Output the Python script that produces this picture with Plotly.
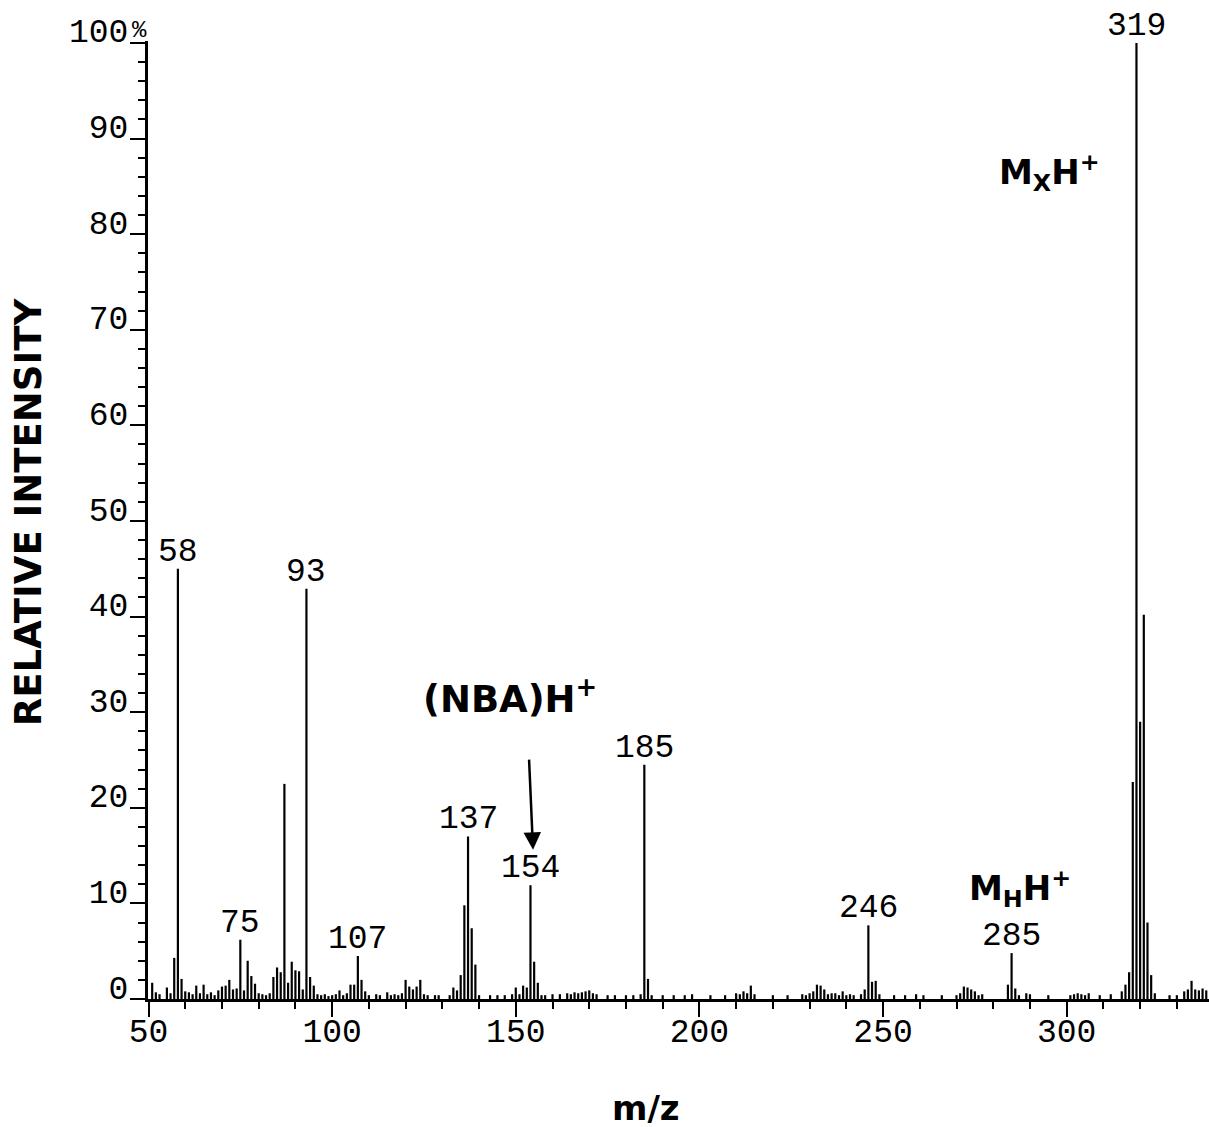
import plotly.graph_objects as go

# ---- spectrum data: m/z and relative intensity (%) ----
# labelled ions
label_mz = [58, 75, 93, 107, 137, 154, 185, 246, 285, 319]
label_int = [45.0, 6.2, 42.9, 4.5, 17.0, 11.9, 24.5, 7.7, 4.8, 100.0]

# other ions, m/z 50-100
low_mz = [51, 52, 53, 55, 56, 57, 59, 60, 61, 62, 63, 64, 65, 66, 67, 68, 69, 70,
          71, 72, 73, 74, 76, 77, 78, 79, 80, 81, 82, 83, 84, 85, 86, 87, 88, 89,
          90, 91, 92, 94, 95, 96, 97, 98, 99]
low_int = [1.7, 0.7, 0.5, 1.2, 0.6, 4.3, 2.1, 0.8, 0.7, 0.5, 1.4, 0.6, 1.5, 0.5, 0.7,
           0.4, 0.9, 1.3, 1.4, 2.0, 1.0, 1.1, 0.9, 4.0, 2.4, 1.6, 0.6, 0.5, 0.4, 0.6,
           2.3, 3.3, 2.8, 22.5, 1.7, 3.9, 3.0, 2.9, 1.0, 2.3, 1.4, 0.5, 0.4, 0.5, 0.3]

# other ions, m/z 100-190
mid_mz = [100, 101, 102, 103, 104, 105, 106, 108, 109, 110, 112, 113, 115, 116, 117,
          118, 119, 120, 121, 122, 123, 124, 125, 126, 128, 129, 132, 133, 134, 135,
          136, 138, 139, 140, 143, 145, 147, 149, 150, 151, 152, 153, 155, 156, 157,
          158, 160, 162, 164, 165, 166, 167, 168, 169, 170, 171, 172, 175, 177, 180,
          182, 184, 186, 187]
mid_int = [0.4, 0.5, 0.9, 0.4, 0.6, 1.5, 1.5, 2.0, 0.8, 0.4, 0.5, 0.4, 0.7, 0.4, 0.5,
           0.4, 0.6, 2.0, 1.3, 1.0, 1.3, 2.0, 0.5, 0.4, 0.4, 0.4, 0.4, 1.2, 0.9, 2.5,
           9.8, 7.4, 3.6, 0.4, 0.4, 0.4, 0.4, 0.5, 1.2, 0.5, 1.4, 1.2, 3.9, 1.7, 0.4,
           0.4, 0.5, 0.5, 0.6, 0.5, 0.7, 0.6, 0.7, 0.8, 0.9, 0.6, 0.5, 0.4, 0.4, 0.4,
           0.4, 0.5, 2.1, 0.4]

# other ions, m/z 190-340
high_mz = [190, 193, 196, 198, 203, 207, 210, 211, 212, 213, 214, 215, 220, 224, 228,
           229, 230, 231, 232, 233, 234, 235, 236, 237, 238, 239, 240, 241, 242, 244,
           245, 247, 248, 249, 253, 256, 259, 261, 266, 270, 271, 272, 273, 274, 275,
           276, 277, 284, 286, 287, 289, 290, 295, 301, 302, 303, 304, 305, 306, 309,
           312, 315, 316, 317, 318, 320, 321, 322, 323, 324, 328, 330, 332, 333, 334,
           335, 336, 337, 338]
high_int = [0.4, 0.4, 0.4, 0.5, 0.4, 0.4, 0.6, 0.5, 0.8, 0.6, 1.4, 0.5, 0.4, 0.4, 0.5,
            0.4, 0.6, 0.8, 1.5, 1.4, 1.0, 0.5, 0.6, 0.6, 0.4, 0.8, 0.4, 0.5, 0.4, 0.5,
            1.0, 1.8, 1.9, 0.5, 0.4, 0.4, 0.5, 0.4, 0.4, 0.4, 0.6, 1.3, 1.2, 1.0, 0.8,
            0.4, 0.5, 1.5, 1.1, 0.4, 0.6, 0.5, 0.4, 0.4, 0.5, 0.6, 0.5, 0.4, 0.6, 0.4,
            0.5, 0.8, 1.5, 2.8, 22.7, 29.0, 40.2, 8.0, 2.5, 0.6, 0.4, 0.4, 0.8, 1.0, 1.9,
            1.0, 0.9, 1.1, 0.9]

# axis ticks
x_ticks = [50, 100, 150, 200, 250, 300]
y_ticks = [0, 10, 20, 30, 40, 50, 60, 70, 80, 90, 100]
y_ticktext = ["0", "10", "20", "30", "40", "50", "60", "70", "80", "90", "100"]

MONO = "Liberation Mono"
SANS_BOLD = "DejaVu Sans"

all_mz = low_mz + mid_mz + high_mz + label_mz
all_int = low_int + mid_int + high_int + label_int

# build stick spectrum: each ion is a vertical segment from 0 to its intensity
stick_x, stick_y = [], []
for m, v in zip(all_mz, all_int):
    stick_x += [m, m, None]
    stick_y += [0, v, None]

fig = go.Figure()
fig.add_trace(go.Scatter(
    x=stick_x, y=stick_y, mode="lines",
    line=dict(color="black", width=2.2),
    hoverinfo="skip", showlegend=False,
))

annotations = []
# peak m/z labels
for m, v in zip(label_mz, label_int):
    annotations.append(dict(
        x=m, y=v, xref="x", yref="y", text=str(m), showarrow=False,
        xanchor="center", yanchor="bottom", yshift=-4,
        font=dict(family=MONO, size=33, color="black"),
    ))

# ion assignments
annotations += [
    dict(x=295.4, y=86.4, xref="x", yref="y", text="M<sub>X</sub>H<sup>+</sup>",
         showarrow=False, xanchor="center", yanchor="middle",
         font=dict(family=SANS_BOLD, size=34, color="black", weight="bold")),
    dict(x=287.3, y=11.6, xref="x", yref="y", text="M<sub>H</sub>H<sup>+</sup>",
         showarrow=False, xanchor="center", yanchor="middle",
         font=dict(family=SANS_BOLD, size=34, color="black", weight="bold")),
    dict(x=148.4, y=31.6, xref="x", yref="y", text="(NBA)H<sup>+</sup>",
         showarrow=False, xanchor="center", yanchor="middle",
         font=dict(family=SANS_BOLD, size=37, color="black", weight="bold")),
    # arrow pointing at the matrix ion
    dict(x=154.7, y=15.6, xref="x", yref="y", ax=153.6, ay=25.2,
         axref="x", ayref="y", text="", showarrow=True,
         arrowhead=2, arrowsize=1.4, arrowwidth=2.5, arrowcolor="black"),
    # percent sign on the top tick label
    dict(x=0, y=100, xref="paper", yref="y", text="%", showarrow=False,
         xanchor="right", yanchor="middle", xshift=1, yshift=12,
         font=dict(family=MONO, size=24, color="black")),
    # axis titles
    dict(x=0, y=0.508, xref="paper", yref="paper", text="RELATIVE INTENSITY",
         showarrow=False, textangle=-90, xanchor="center", yanchor="middle",
         xshift=-120, font=dict(family=SANS_BOLD, size=37, color="black", weight="bold")),
    dict(x=0.4694, y=-0.1138, xref="paper", yref="paper", text="m/z",
         showarrow=False, xanchor="center", yanchor="middle",
         font=dict(family=SANS_BOLD, size=34, color="black", weight="bold")),
]

fig.update_layout(
    width=1209, height=1127,
    margin=dict(l=148, r=0, t=41, b=128),
    paper_bgcolor="white", plot_bgcolor="white",
    showlegend=False,
    annotations=annotations,
    xaxis=dict(
        range=[49.86, 338.75], showgrid=False, zeroline=False,
        showline=True, linecolor="black", linewidth=3,
        tickmode="array", tickvals=x_ticks,
        ticks="outside", ticklen=15, tickwidth=2, tickcolor="black",
        tickfont=dict(family=MONO, size=33, color="black"),
        ticklabelstandoff=-15,
        minor=dict(dtick=10, tick0=50, ticks="outside", ticklen=7,
                   tickwidth=2, tickcolor="black", showgrid=False),
    ),
    yaxis=dict(
        range=[0, 100.2], showgrid=False, zeroline=False,
        showline=True, linecolor="black", linewidth=3,
        tickmode="array", tickvals=y_ticks, ticktext=y_ticktext,
        ticks="outside", ticklen=15, tickwidth=2, tickcolor="black",
        tickfont=dict(family=MONO, size=33, color="black"),
        ticklabelshift=-12, ticklabelstandoff=-5,
        minor=dict(dtick=2, tick0=0, ticks="outside", ticklen=7,
                   tickwidth=2, tickcolor="black", showgrid=False),
    ),
)

fig.write_html("out.html")
